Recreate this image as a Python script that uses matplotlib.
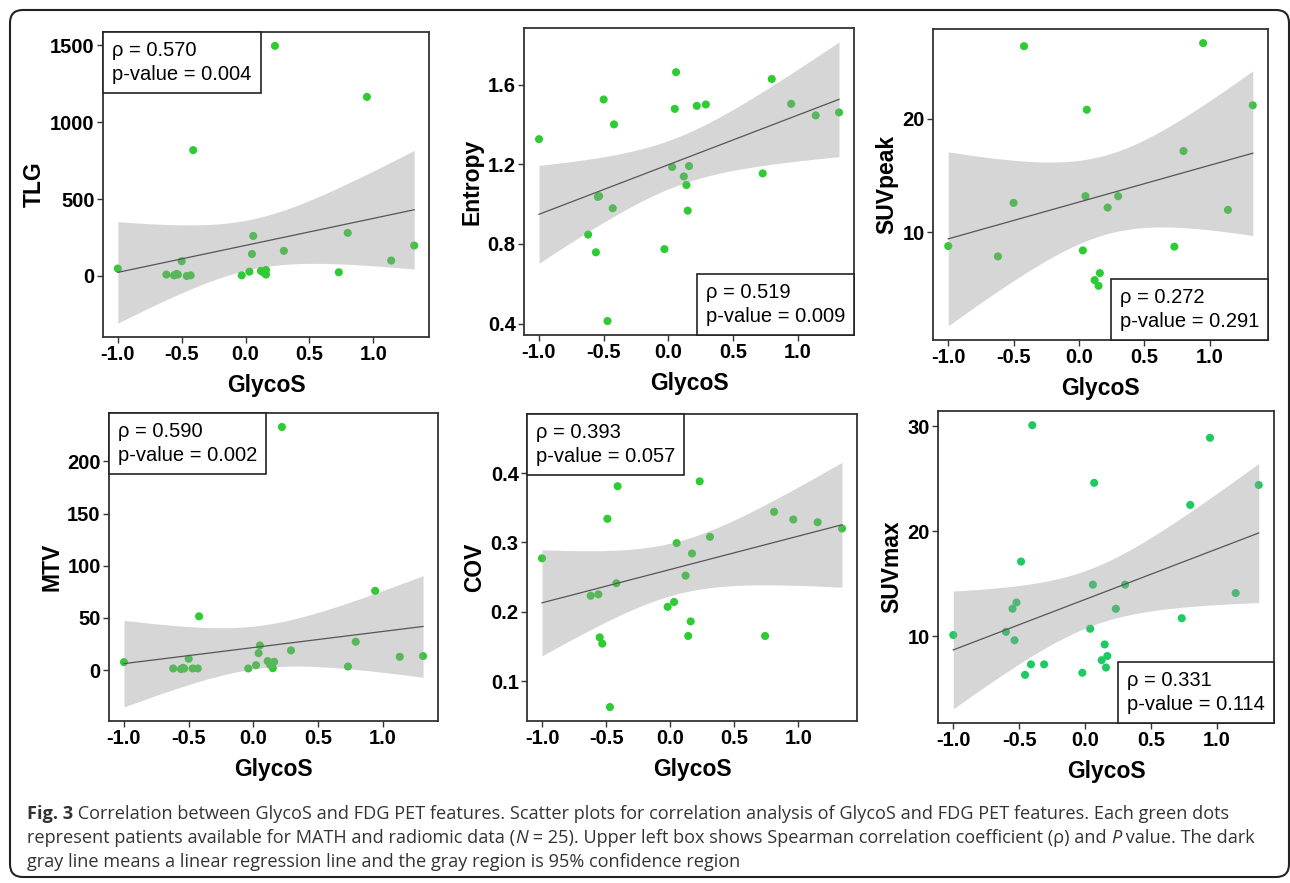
import matplotlib
matplotlib.use("Agg")
import matplotlib.pyplot as plt
import numpy as np
from matplotlib.offsetbox import AnchoredText
from matplotlib.patches import FancyBboxPatch

W, H = 1290, 883

# GlycoS (x) and feature (y) values
TLG_X = [-1.00, -0.62, -0.56, -0.54, -0.53, -0.50, -0.46, -0.43, -0.41, -0.03, 0.03, 0.05,
         0.06, 0.12, 0.14, 0.16, 0.16, 0.23, 0.30, 0.73, 0.80, 0.95, 1.14, 1.32]
TLG_Y = [48, 9, 4, 13, 9, 96, 0, 4, 818, 4, 28, 143,
         260, 33, 22, 9, 39, 1496, 163, 24, 280, 1164, 100, 198]

ENT_X = [-1.00, -0.62, -0.56, -0.545, -0.535, -0.50, -0.47, -0.43, -0.42, -0.03, 0.03, 0.05,
         0.06, 0.12, 0.14, 0.15, 0.16, 0.22, 0.29, 0.73, 0.80, 0.95, 1.14, 1.32]
ENT_Y = [1.326, 0.847, 0.758, 1.036, 1.040, 1.525, 0.413, 0.979, 1.400, 0.774, 1.186, 1.478,
         1.662, 1.139, 1.096, 0.967, 1.191, 1.493, 1.500, 1.154, 1.628, 1.503, 1.445, 1.460]

PEAK_X = [-1.00, -0.62, -0.50, -0.42, 0.03, 0.05, 0.06, 0.12, 0.15, 0.16, 0.22, 0.30,
          0.73, 0.80, 0.95, 1.14, 1.33]
PEAK_Y = [8.79, 7.88, 12.59, 26.38, 8.41, 13.18, 20.79, 5.79, 5.29, 6.41, 12.18, 13.18,
          8.74, 17.15, 26.65, 11.97, 21.18]

MTV_X = [-1.00, -0.62, -0.56, -0.545, -0.535, -0.50, -0.47, -0.43, -0.42, -0.04, 0.02, 0.04,
         0.05, 0.11, 0.13, 0.15, 0.16, 0.22, 0.29, 0.73, 0.79, 0.94, 1.13, 1.31]
MTV_Y = [7.7, 1.6, 1.0, 2.2, 1.6, 10.9, 1.6, 1.6, 51.6, 1.6, 4.8, 16.3,
         23.7, 8.7, 5.1, 1.9, 8.0, 233, 18.9, 3.5, 27.2, 76, 12.8, 13.5]

COV_X = [-1.00, -0.62, -0.56, -0.55, -0.53, -0.49, -0.47, -0.42, -0.41, -0.02, 0.03, 0.05,
         0.06, 0.12, 0.14, 0.16, 0.17, 0.23, 0.31, 0.74, 0.81, 0.96, 1.15, 1.34]
COV_Y = [0.277, 0.223, 0.225, 0.163, 0.154, 0.334, 0.0625, 0.241, 0.381, 0.207, 0.214, 0.299,
         0.465, 0.252, 0.165, 0.186, 0.284, 0.388, 0.308, 0.165, 0.344, 0.333, 0.329, 0.320]

MAX_X = [-1.00, -0.60, -0.55, -0.52, -0.535, -0.485, -0.455, -0.41, -0.40, -0.31, -0.02, 0.04,
         0.06, 0.07, 0.127, 0.15, 0.17, 0.16, 0.235, 0.305, 0.735, 0.80, 0.95, 1.145, 1.32]
MAX_Y = [10.1, 10.4, 12.6, 13.2, 9.6, 17.1, 6.3, 7.3, 30.1, 7.3, 6.5, 10.7,
         14.9, 24.6, 7.7, 9.2, 8.1, 7.0, 12.6, 14.9, 11.7, 22.5, 28.9, 14.1, 24.4]

X_TICKS = [-1.0, -0.5, 0.0, 0.5, 1.0]

# two-sided 95% t critical values
T975 = {15: 2.131, 16: 2.120, 17: 2.110, 18: 2.101, 19: 2.093,
        20: 2.086, 21: 2.080, 22: 2.074, 23: 2.069}

# (x, y, ylabel, yticks, tick format, rho, p, box corner, colour, axes px box l,t,r,b)
panels = [
    (TLG_X, TLG_Y, "TLG", [0, 500, 1000, 1500], "{:.0f}", "0.570", "0.004", "upper left",
     "#2ecc33", (103, 32, 429, 337)),
    (ENT_X, ENT_Y, "Entropy", [0.4, 0.8, 1.2, 1.6], "{:.1f}", "0.519", "0.009", "lower right",
     "#2ecc33", (524, 28, 854, 335)),
    (PEAK_X, PEAK_Y, "SUVpeak", [10, 20], "{:.0f}", "0.272", "0.291", "lower right",
     "#2ecc33", (933, 29, 1268, 340)),
    (MTV_X, MTV_Y, "MTV", [0, 50, 100, 150, 200], "{:.0f}", "0.590", "0.002", "upper left",
     "#2ecc33", (109, 413, 438, 721)),
    (COV_X, COV_Y, "COV", [0.1, 0.2, 0.3, 0.4], "{:.1f}", "0.393", "0.057", "upper left",
     "#2ecc33", (527, 414, 857, 721)),
    (MAX_X, MAX_Y, "SUVmax", [10, 20, 30], "{:.0f}", "0.331", "0.114", "lower right",
     "#1ecb62", (938, 411, 1274, 723)),
]

FONT = ["Liberation Sans", "DejaVu Sans"]
plt.rcParams["font.family"] = FONT

fig = plt.figure(figsize=(W / 100, H / 100), dpi=100)

for xs, ys, ylab, yt, fmt, rho, pval, corner, col, (l, t, r, b) in panels:
    ax = fig.add_axes([l / W, 1 - b / H, (r - l) / W, (b - t) / H])
    x = np.array(xs)
    y = np.array(ys)

    # linear fit with 95% confidence band (like geom_smooth(method="lm"))
    n = len(x)
    slope, icpt = np.polyfit(x, y, 1)
    resid = y - (slope * x + icpt)
    s = np.sqrt(np.sum(resid ** 2) / (n - 2))
    xg = np.linspace(x.min(), x.max(), 100)
    yg = slope * xg + icpt
    se = s * np.sqrt(1 / n + (xg - x.mean()) ** 2 / np.sum((x - x.mean()) ** 2))
    tc = T975[n - 2]

    ax.scatter(x, y, s=34, color=col, edgecolors="none", zorder=2)
    ax.fill_between(xg, yg - tc * se, yg + tc * se, color="#999999", alpha=0.4,
                    linewidth=0, zorder=3)
    ax.plot(xg, yg, color="#555555", linewidth=0.9, zorder=4)

    ax.margins(x=0.05, y=0.05)
    ax.set_xticks(X_TICKS)
    ax.set_xticklabels([f"{v:.1f}" for v in X_TICKS])
    ax.set_yticks(yt)
    ax.set_yticklabels([fmt.format(v) for v in yt])
    ax.tick_params(length=4, width=1, color="#333333", labelsize=14.5, pad=2)
    for lab in ax.get_xticklabels() + ax.get_yticklabels():
        lab.set_fontweight("bold")
    for sp in ax.spines.values():
        sp.set_color("#333333")
        sp.set_linewidth(1.3)
    ax.set_xlabel("GlycoS", fontsize=16.5, fontweight="bold", labelpad=7)
    ax.set_ylabel(ylab, fontsize=16.5, fontweight="bold", labelpad=3)

    at = AnchoredText(f"\u03c1 = {rho}\np-value = {pval}", loc=corner, pad=0.45,
                      borderpad=0, prop=dict(size=14.5, linespacing=1.3), frameon=True)
    at.patch.set_edgecolor("#222222")
    at.patch.set_linewidth(1.2)
    at.patch.set_boxstyle("square,pad=0")
    at.zorder = 5
    ax.add_artist(at)

# outer rounded frame
frame = FancyBboxPatch((10 / W, 1 - 877 / H), 1279 / W, 867 / H,
                       boxstyle="round,pad=0,rounding_size=0.01",
                       mutation_aspect=W / H, transform=fig.transFigure,
                       facecolor="none", edgecolor="#222222", linewidth=1.5)
fig.patches.append(frame)

# caption, drawn piece by piece so bold / italic parts sit inline
CAP_FONT = ["Open Sans", "DejaVu Sans"]
caption = [
    [("Fig. 3", "bold", "normal"),
     (" Correlation between GlycoS and FDG PET features. Scatter plots for correlation analysis "
      "of GlycoS and FDG PET features. Each green dots", "normal", "normal")],
    [("represent patients available for MATH and radiomic data (", "normal", "normal"),
     ("N", "normal", "italic"), (" = 25). Upper left box shows Spearman correlation coefficient "
      "(\u03c1) and ", "normal", "normal"), ("P", "normal", "italic"),
     (" value. The dark", "normal", "normal")],
    [("gray line means a linear regression line and the gray region is 95% confidence region",
      "normal", "normal")],
]
baselines = [819, 843, 867]
renderer = fig.canvas.get_renderer()
for pieces, base in zip(caption, baselines):
    xpx = 27
    for txt, wt, st in pieces:
        tobj = fig.text(xpx / W, 1 - base / H, txt, fontsize=13.1, fontweight=wt, fontstyle=st,
                        family=CAP_FONT, color="#333333", va="baseline", ha="left")
        xpx += tobj.get_window_extent(renderer).width

fig.savefig("out.png", dpi=100)
